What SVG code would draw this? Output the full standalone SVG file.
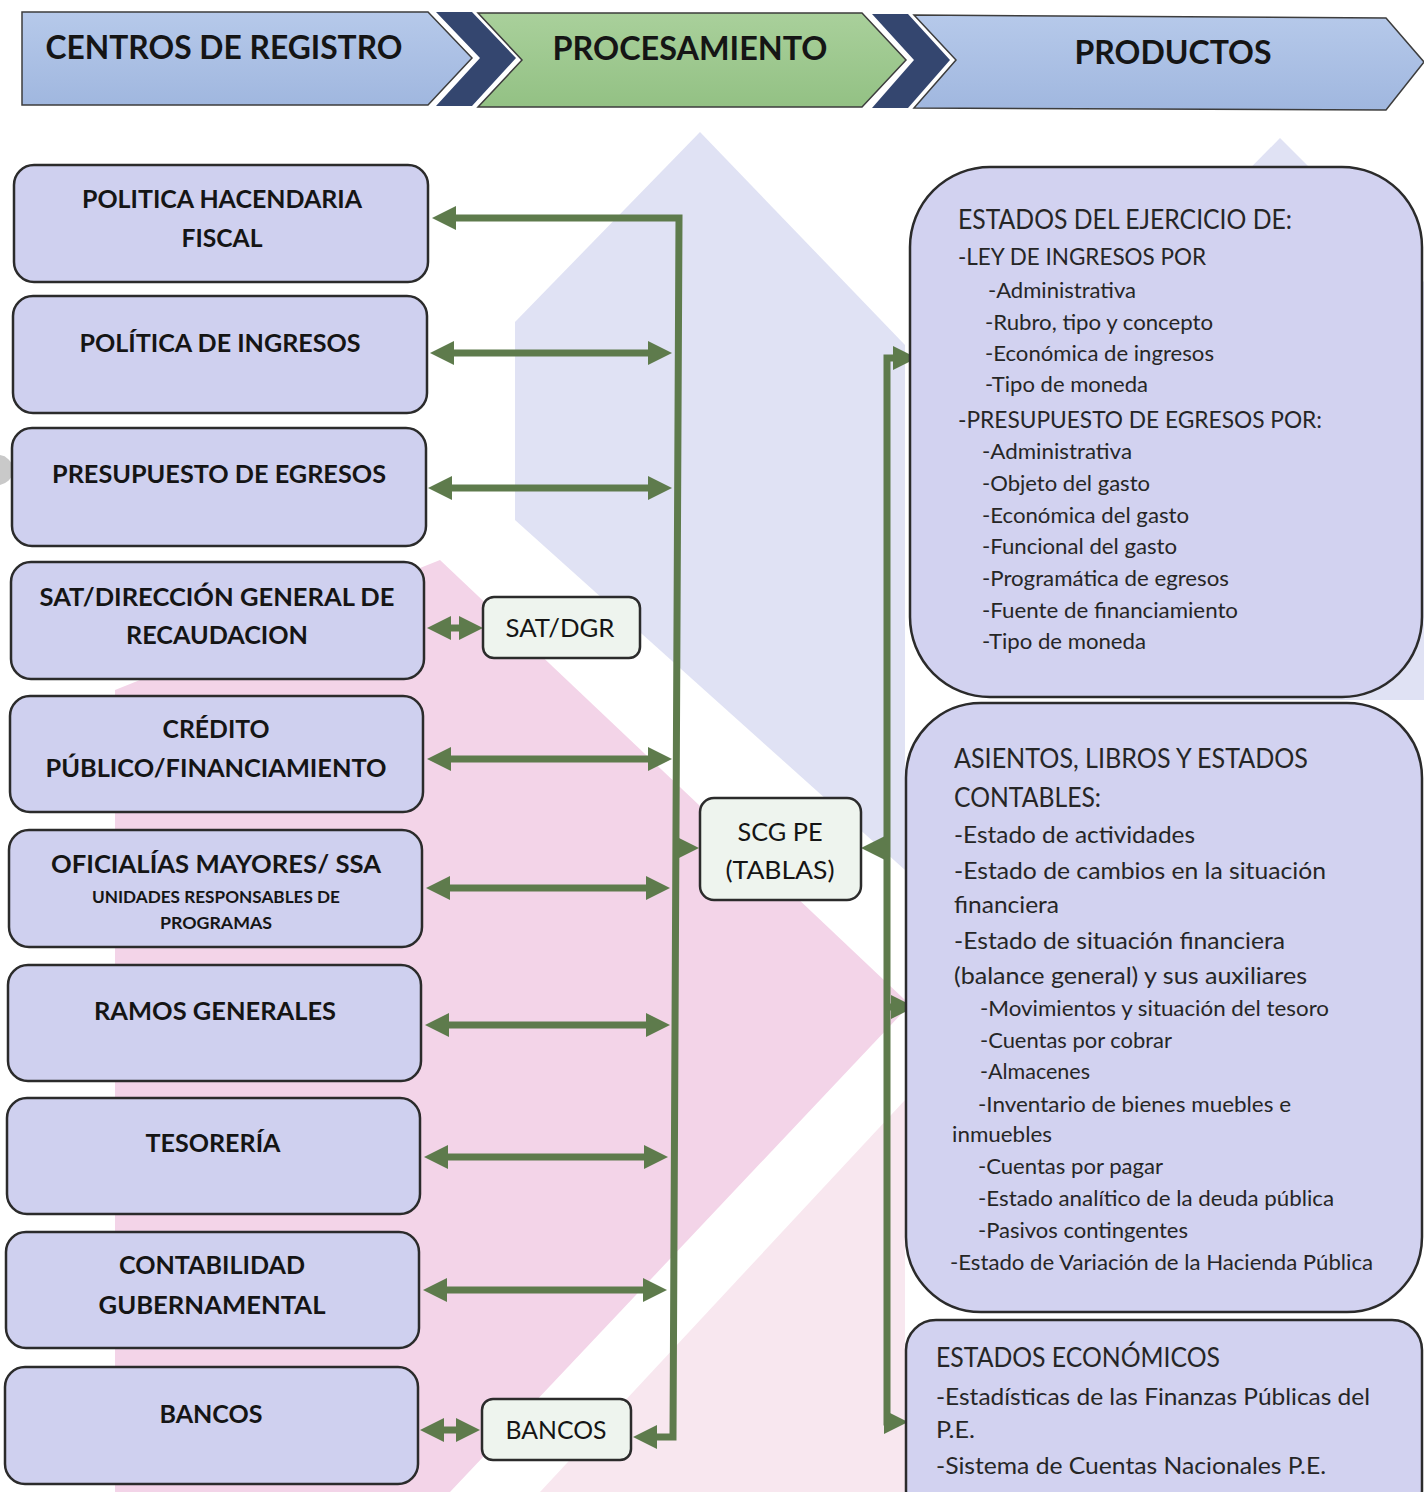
<svg xmlns="http://www.w3.org/2000/svg" width="1424" height="1492" viewBox="0 0 1424 1492">
<defs>
<linearGradient id="gBlue" x1="0" y1="0" x2="0" y2="1"><stop offset="0" stop-color="#b6c9ea"/><stop offset="1" stop-color="#a0b7df"/></linearGradient>
<linearGradient id="gGreen" x1="0" y1="0" x2="0" y2="1"><stop offset="0" stop-color="#a9d09b"/><stop offset="1" stop-color="#93c184"/></linearGradient>
<marker id="ah" markerUnits="userSpaceOnUse" markerWidth="24" markerHeight="24" viewBox="0 0 24 24" refX="10" refY="12" orient="auto-start-reverse"><path d="M0,0 L24,12 L0,24 Z" fill="#5e7b4c"/></marker>
<style>
.hdr{stroke:#3d3d3d;stroke-width:1.5}
.band{fill:#34466f}
.htxt{font-family:Lato,"Open Sans","Liberation Sans",sans-serif;font-weight:bold;font-size:33px;fill:#151515;text-anchor:middle}
.lbox{fill:#cfd0ef;stroke:#2b2b2b;stroke-width:2.5}
.ltxt{font-family:Lato,"Open Sans","Liberation Sans",sans-serif;font-weight:bold;font-size:25px;fill:#151515;text-anchor:middle}
.lsm{font-size:17px}
.mbox{fill:#eef4ee;stroke:#2b2b2b;stroke-width:2.5}
.mtxt{font-family:Lato,"Open Sans","Liberation Sans",sans-serif;font-size:25px;fill:#151515;text-anchor:middle}
.rbox{fill:#d2d2f0;stroke:#2b2b2b;stroke-width:2.5}
.rtxt{font-family:Lato,"Open Sans","Liberation Sans",sans-serif;fill:#262626}
.h1{font-size:27px}
.h2{font-size:24px}
.s{font-size:21px}
.conn{fill:none;stroke:#5e7b4c;stroke-width:7}
.arr{marker-start:url(#ah);marker-end:url(#ah)}
.arr1{marker-end:url(#ah)}
</style>
</defs>
<rect width="1424" height="1492" fill="#ffffff"/>
<g id="background">
<polygon points="700,132 905,345 905,870 515,520 515,322" fill="#e0e2f4"/>
<polygon points="1280,138 1424,282 1424,700 1140,700 1140,280" fill="#e0e2f4"/>
<polygon points="115,690 440,560 905,1000 905,1010 450,1492 115,1492" fill="#f3d4e8"/>
<polygon points="540,1492 905,1100 905,1492" fill="#f8e7ef"/>
<circle cx="-2" cy="470" r="15" fill="#c9c9c9"/>
</g>
<g id="header">
<g id="h-centros">
<polygon class="hdr" points="22,12 428,12 472,58 428,105 22,105" fill="url(#gBlue)"/>
<text class="htxt" x="224" y="59" textLength="357" lengthAdjust="spacingAndGlyphs">CENTROS DE REGISTRO</text>
</g>
<polygon class="band" points="436,12 472,12 516,58 472,106 436,106 480,58"/>
<g id="h-procesamiento">
<polygon class="hdr" points="478,13 862,13 906,60 862,107 478,107 522,60" fill="url(#gGreen)"/>
<text class="htxt" x="690" y="60" textLength="275" lengthAdjust="spacingAndGlyphs">PROCESAMIENTO</text>
</g>
<polygon class="band" points="872,14 908,14 950,60 908,108 872,108 914,60"/>
<g id="h-productos">
<polygon class="hdr" points="914,15 1386,18 1424,62 1386,110 914,108 956,60" fill="url(#gBlue)"/>
<text class="htxt" x="1173" y="64" textLength="197" lengthAdjust="spacingAndGlyphs">PRODUCTOS</text>
</g>
</g>
<g id="connectors">
<path class="conn arr" d="M446,218 L679,218 L673,1437 L647,1437"/>
<path class="conn arr" d="M444,353 L658,353"/>
<path class="conn arr" d="M442,488 L658,488"/>
<path class="conn arr" d="M441,628 L469,628"/>
<path class="conn arr" d="M441,759 L658,759"/>
<path class="conn arr" d="M440,888 L656,888"/>
<path class="conn arr" d="M439,1025 L656,1025"/>
<path class="conn arr" d="M438,1157 L654,1157"/>
<path class="conn arr" d="M437,1290 L653,1290"/>
<path class="conn arr" d="M434,1430 L466,1430"/>
<path class="conn arr1" d="M676,848 L685,848"/>
<path class="conn arr" d="M903,358 L887,358 L887,1422 L894,1422"/>
<path class="conn arr1" d="M887,1007 L901,1007"/>
<path class="conn arr1" d="M887,848 L875,848"/>
</g>
<g id="n-politica-hacendaria">
<rect class="lbox" x="14" y="165" width="414" height="117" rx="20"/>
<text class="ltxt" x="222" y="208" textLength="280" lengthAdjust="spacingAndGlyphs">POLITICA HACENDARIA</text>
<text class="ltxt" x="222" y="247" textLength="81" lengthAdjust="spacingAndGlyphs">FISCAL</text>
</g>
<g id="n-politica-ingresos">
<rect class="lbox" x="13" y="296" width="414" height="117" rx="20"/>
<text class="ltxt" x="220" y="352" textLength="281" lengthAdjust="spacingAndGlyphs">POLÍTICA DE INGRESOS</text>
</g>
<g id="n-presupuesto">
<rect class="lbox" x="12" y="428" width="414" height="118" rx="20"/>
<text class="ltxt" x="219" y="483" textLength="334" lengthAdjust="spacingAndGlyphs">PRESUPUESTO DE EGRESOS</text>
</g>
<g id="n-sat">
<rect class="lbox" x="11" y="562" width="413" height="117" rx="20"/>
<text class="ltxt" x="217" y="606" textLength="355" lengthAdjust="spacingAndGlyphs">SAT/DIRECCIÓN GENERAL DE</text>
<text class="ltxt" x="217" y="644" textLength="182" lengthAdjust="spacingAndGlyphs">RECAUDACION</text>
</g>
<g id="n-credito">
<rect class="lbox" x="10" y="696" width="413" height="116" rx="20"/>
<text class="ltxt" x="216" y="738" textLength="107" lengthAdjust="spacingAndGlyphs">CRÉDITO</text>
<text class="ltxt" x="216" y="777" textLength="341" lengthAdjust="spacingAndGlyphs">PÚBLICO/FINANCIAMIENTO</text>
</g>
<g id="n-oficialias">
<rect class="lbox" x="9" y="830" width="413" height="117" rx="20"/>
<text class="ltxt" x="216" y="873" textLength="330" lengthAdjust="spacingAndGlyphs">OFICIALÍAS MAYORES/ SSA</text>
<text class="ltxt lsm" x="216" y="903" textLength="248" lengthAdjust="spacingAndGlyphs">UNIDADES RESPONSABLES DE</text>
<text class="ltxt lsm" x="216" y="929" textLength="112" lengthAdjust="spacingAndGlyphs">PROGRAMAS</text>
</g>
<g id="n-ramos">
<rect class="lbox" x="8" y="965" width="413" height="116" rx="20"/>
<text class="ltxt" x="215" y="1020" textLength="242" lengthAdjust="spacingAndGlyphs">RAMOS GENERALES</text>
</g>
<g id="n-tesoreria">
<rect class="lbox" x="7" y="1098" width="413" height="116" rx="20"/>
<text class="ltxt" x="213" y="1152" textLength="135" lengthAdjust="spacingAndGlyphs">TESORERÍA</text>
</g>
<g id="n-contabilidad">
<rect class="lbox" x="6" y="1232" width="413" height="116" rx="20"/>
<text class="ltxt" x="212" y="1274" textLength="186" lengthAdjust="spacingAndGlyphs">CONTABILIDAD</text>
<text class="ltxt" x="212" y="1314" textLength="227" lengthAdjust="spacingAndGlyphs">GUBERNAMENTAL</text>
</g>
<g id="n-bancos">
<rect class="lbox" x="5" y="1367" width="413" height="117" rx="20"/>
<text class="ltxt" x="211" y="1423" textLength="103" lengthAdjust="spacingAndGlyphs">BANCOS</text>
</g>
<g id="n-satdgr">
<rect class="mbox" x="483" y="597" width="157" height="61" rx="11"/>
<text class="mtxt" x="560" y="637" textLength="109" lengthAdjust="spacingAndGlyphs">SAT/DGR</text>
</g>
<g id="n-scgpe">
<rect class="mbox" x="700" y="798" width="161" height="102" rx="14"/>
<text class="mtxt" x="780" y="841" textLength="85" lengthAdjust="spacingAndGlyphs">SCG PE</text>
<text class="mtxt" x="780" y="879" textLength="109" lengthAdjust="spacingAndGlyphs">(TABLAS)</text>
</g>
<g id="n-bancos-mid">
<rect class="mbox" x="482" y="1399" width="149" height="61" rx="11"/>
<text class="mtxt" x="556" y="1439" textLength="101" lengthAdjust="spacingAndGlyphs">BANCOS</text>
</g>
<g id="n-estados-ejercicio">
<rect class="rbox" x="910" y="167" width="512" height="530" rx="80"/>
<text class="rtxt h1" x="958" y="229" textLength="334" lengthAdjust="spacingAndGlyphs">ESTADOS DEL EJERCICIO DE:</text>
<text class="rtxt h2" x="958" y="265" textLength="248" lengthAdjust="spacingAndGlyphs">-LEY DE INGRESOS POR</text>
<text class="rtxt s" x="988" y="298" textLength="148" lengthAdjust="spacingAndGlyphs">-Administrativa</text>
<text class="rtxt s" x="985" y="330" textLength="228" lengthAdjust="spacingAndGlyphs">-Rubro, tipo y concepto</text>
<text class="rtxt s" x="985" y="361" textLength="229" lengthAdjust="spacingAndGlyphs">-Económica de ingresos</text>
<text class="rtxt s" x="985" y="392" textLength="163" lengthAdjust="spacingAndGlyphs">-Tipo de moneda</text>
<text class="rtxt h2" x="958" y="428" textLength="364" lengthAdjust="spacingAndGlyphs">-PRESUPUESTO DE EGRESOS POR:</text>
<text class="rtxt s" x="982" y="459" textLength="150" lengthAdjust="spacingAndGlyphs">-Administrativa</text>
<text class="rtxt s" x="982" y="491" textLength="168" lengthAdjust="spacingAndGlyphs">-Objeto del gasto</text>
<text class="rtxt s" x="982" y="523" textLength="207" lengthAdjust="spacingAndGlyphs">-Económica del gasto</text>
<text class="rtxt s" x="982" y="554" textLength="195" lengthAdjust="spacingAndGlyphs">-Funcional del gasto</text>
<text class="rtxt s" x="982" y="586" textLength="247" lengthAdjust="spacingAndGlyphs">-Programática de egresos</text>
<text class="rtxt s" x="982" y="618" textLength="256" lengthAdjust="spacingAndGlyphs">-Fuente de financiamiento</text>
<text class="rtxt s" x="982" y="649" textLength="164" lengthAdjust="spacingAndGlyphs">-Tipo de moneda</text>
</g>
<g id="n-asientos">
<rect class="rbox" x="906" y="703" width="516" height="609" rx="75"/>
<text class="rtxt h1" x="954" y="768" textLength="354" lengthAdjust="spacingAndGlyphs">ASIENTOS, LIBROS Y ESTADOS</text>
<text class="rtxt h1" x="954" y="807" textLength="147" lengthAdjust="spacingAndGlyphs">CONTABLES:</text>
<text class="rtxt h2" x="954" y="843" textLength="241" lengthAdjust="spacingAndGlyphs">-Estado de actividades</text>
<text class="rtxt h2" x="954" y="879" textLength="372" lengthAdjust="spacingAndGlyphs">-Estado de cambios en la situación</text>
<text class="rtxt h2" x="954" y="913" textLength="105" lengthAdjust="spacingAndGlyphs">financiera</text>
<text class="rtxt h2" x="954" y="949" textLength="331" lengthAdjust="spacingAndGlyphs">-Estado de situación financiera</text>
<text class="rtxt h2" x="954" y="984" textLength="353" lengthAdjust="spacingAndGlyphs">(balance general) y sus auxiliares</text>
<text class="rtxt s" x="980" y="1016" textLength="349" lengthAdjust="spacingAndGlyphs">-Movimientos y situación del tesoro</text>
<text class="rtxt s" x="980" y="1048" textLength="192" lengthAdjust="spacingAndGlyphs">-Cuentas por cobrar</text>
<text class="rtxt s" x="980" y="1079" textLength="110" lengthAdjust="spacingAndGlyphs">-Almacenes</text>
<text class="rtxt s" x="978" y="1112" textLength="313" lengthAdjust="spacingAndGlyphs">-Inventario de bienes muebles e</text>
<text class="rtxt s" x="952" y="1142" textLength="100" lengthAdjust="spacingAndGlyphs">inmuebles</text>
<text class="rtxt s" x="978" y="1174" textLength="185" lengthAdjust="spacingAndGlyphs">-Cuentas por pagar</text>
<text class="rtxt s" x="978" y="1206" textLength="356" lengthAdjust="spacingAndGlyphs">-Estado analítico de la deuda pública</text>
<text class="rtxt s" x="978" y="1238" textLength="210" lengthAdjust="spacingAndGlyphs">-Pasivos contingentes</text>
<text class="rtxt s" x="950" y="1270" textLength="423" lengthAdjust="spacingAndGlyphs">-Estado de Variación de la Hacienda Pública</text>
</g>
<g id="n-estados-economicos">
<rect class="rbox" x="906" y="1320" width="516" height="200" rx="30"/>
<text class="rtxt h1" x="936" y="1367" textLength="284" lengthAdjust="spacingAndGlyphs">ESTADOS ECONÓMICOS</text>
<text class="rtxt h2" x="936" y="1405" textLength="434" lengthAdjust="spacingAndGlyphs">-Estadísticas de las Finanzas Públicas del</text>
<text class="rtxt h2" x="936" y="1438" textLength="39" lengthAdjust="spacingAndGlyphs">P.E.</text>
<text class="rtxt h2" x="936" y="1474" textLength="390" lengthAdjust="spacingAndGlyphs">-Sistema de Cuentas Nacionales P.E.</text>
</g>
</svg>
